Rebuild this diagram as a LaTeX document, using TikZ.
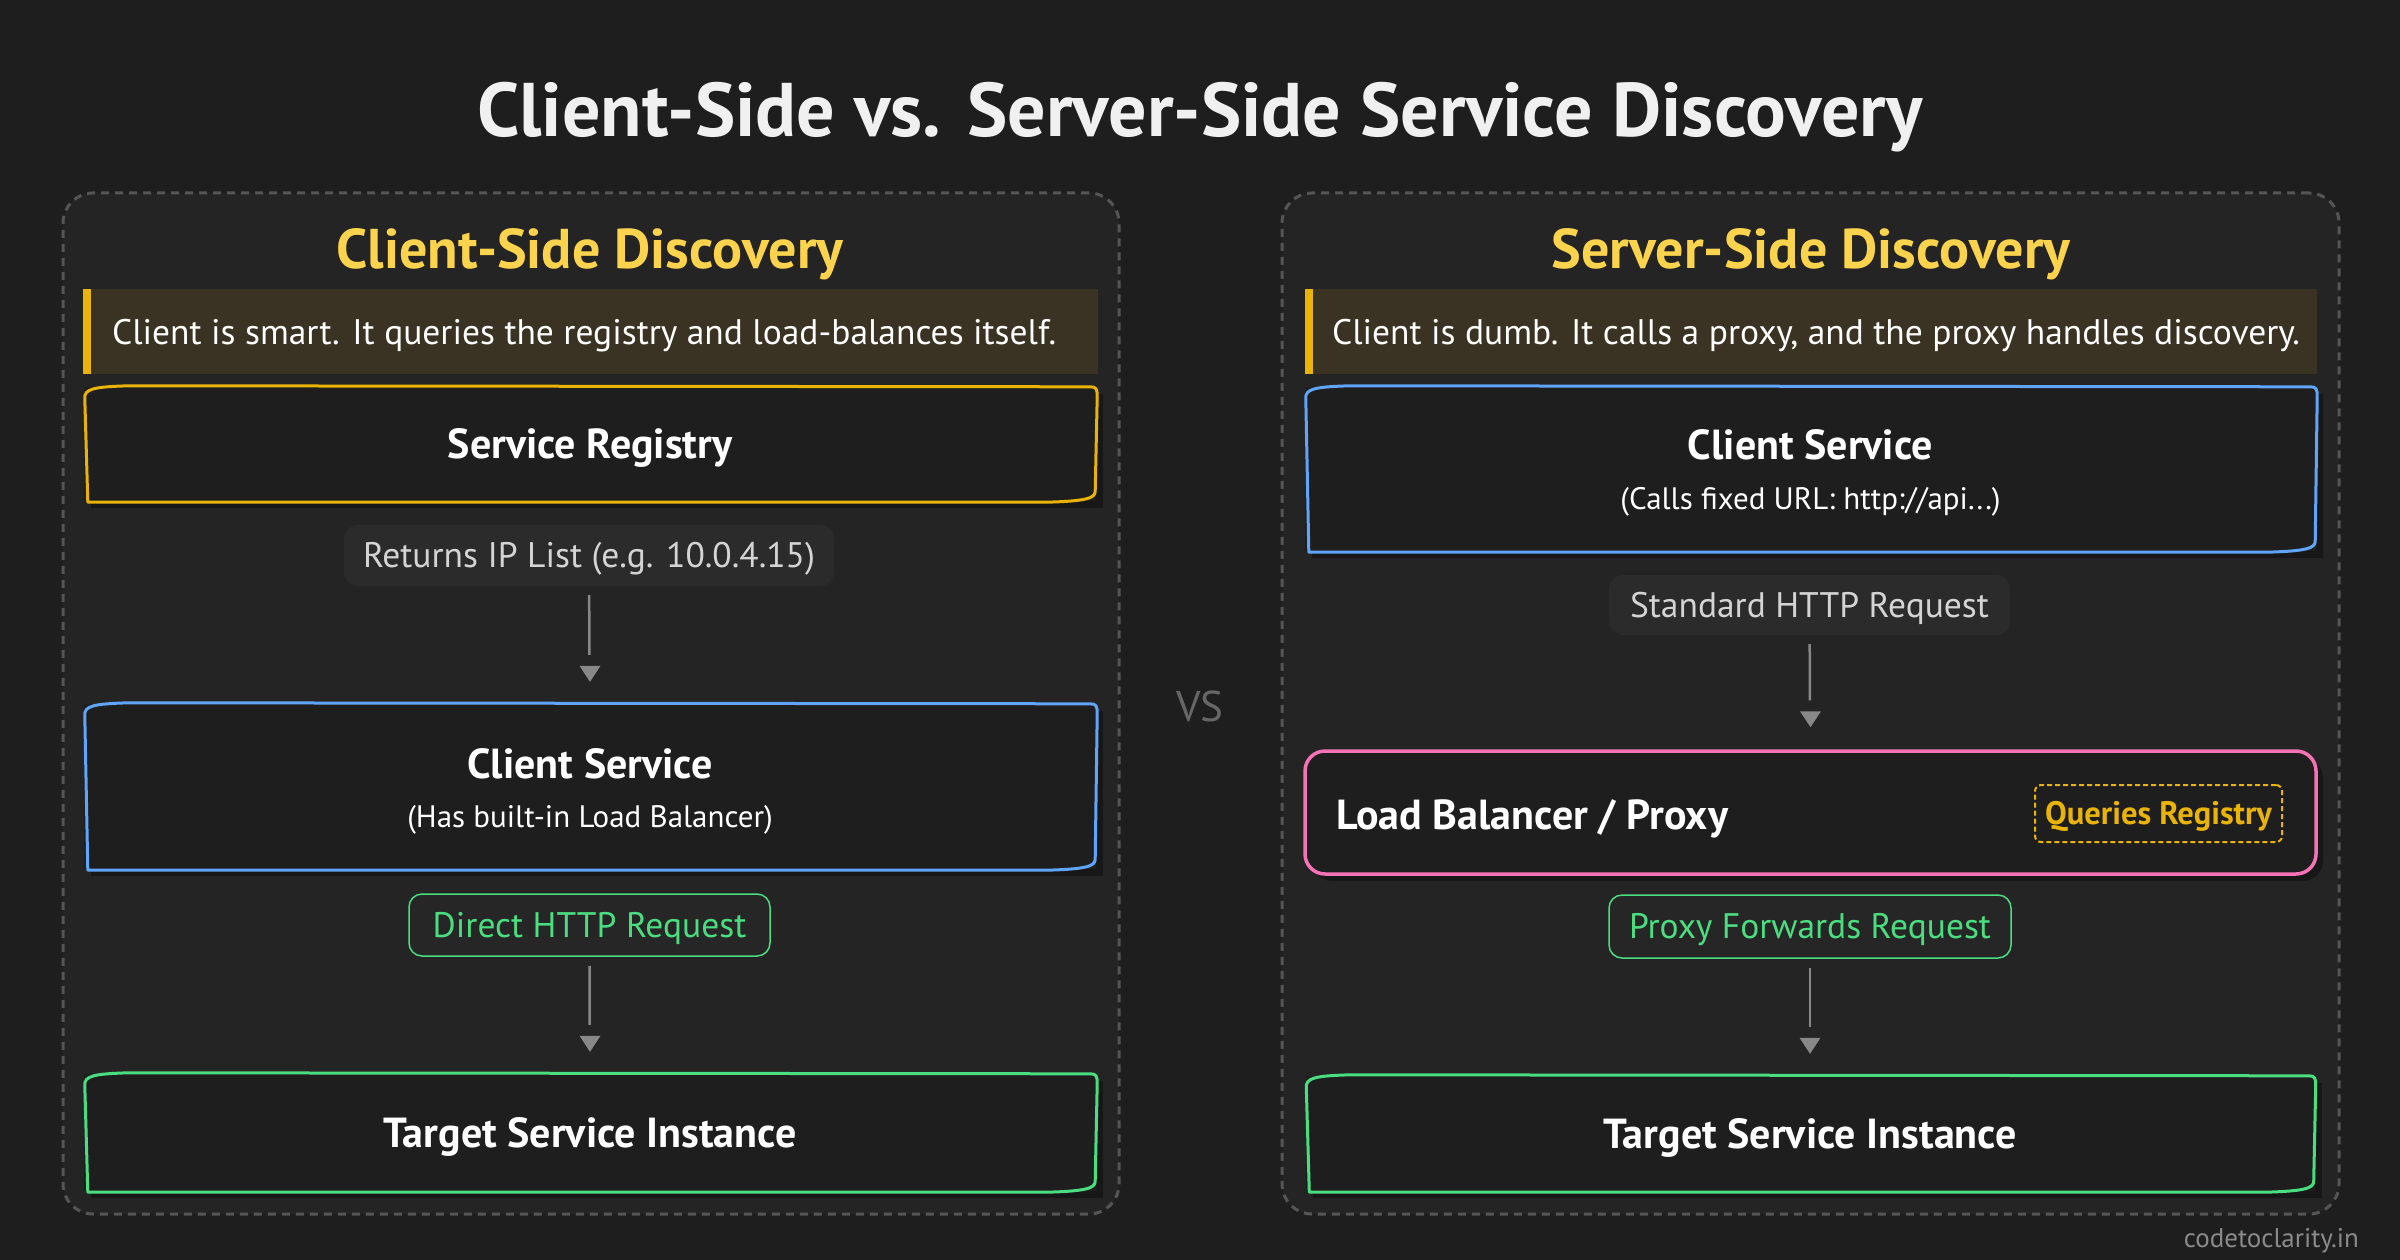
\documentclass[tikz,border=0pt]{standalone}
\usepackage{fontspec}
\setmainfont{PT Sans}
\usetikzlibrary{calc,shadows}
\definecolor{bgc}{HTML}{1E1E1E}
\definecolor{panelc}{HTML}{242424}
\definecolor{dashc}{HTML}{555555}
\definecolor{boxc}{HTML}{1E1E1E}
\definecolor{shadc}{HTML}{171717}
\definecolor{titlec}{HTML}{F0F0F0}
\definecolor{subc}{HTML}{FCD34D}
\definecolor{barc}{HTML}{EAB308}
\definecolor{banc}{HTML}{3A3222}
\definecolor{bluec}{HTML}{60A5FA}
\definecolor{greenc}{HTML}{4ADE80}
\definecolor{pinkc}{HTML}{F472B6}
\definecolor{pillc}{HTML}{2B2B2B}
\definecolor{gpillc}{HTML}{262626}
\definecolor{pilltc}{HTML}{D4D4D4}
\definecolor{arrc}{HTML}{888888}
\definecolor{vsc}{HTML}{666666}
\definecolor{wmc}{HTML}{8A8A8A}
\newcommand\fsz[1]{\fontsize{#1}{#1}\selectfont}
\newcommand\skbox[2]{%
\draw[#2, line width=3pt, line join=round, line cap=round]
 ($(#1.north west)+(1,12)$) .. controls ($(#1.north west)+(0,2)$) and ($(#1.north west)+(10,0)$) .. ($(#1.north west)+(45,-1)$)
 -- ($(#1.north east)+(-6,0)$) .. controls ($(#1.north east)+(0,0)$) and ($(#1.north east)+(1,2)$) .. ($(#1.north east)+(1,10)$)
 -- ($(#1.south east)+(-1,-10)$) .. controls ($(#1.south east)+(-1,-3)$) and ($(#1.south east)+(-10,0)$) .. ($(#1.south east)+(-50,1)$)
 -- ($(#1.south west)+(4,1)$) -- cycle;}
% connector: line from #1 to #2, tip at coordinate #3
\newcommand\conn[3]{%
\draw[connline] (#1) -- (#2);
\coordinate (#3) at ($(#2.north)+(0,-22)$);
\fill[arrc] (#3) -- ++(-10.5,-16) -- ++(21,0) -- cycle;}
\begin{document}
\begin{tikzpicture}[x=1pt,y=-1pt,
 txt/.style={inner sep=0pt, text depth=0pt},
 ttl/.style={txt, font=\bfseries\fsz{76}, text height=53.2pt, text=titlec},
 subt/.style={txt, font=\bfseries\fsz{56}, text height=39.2pt, text=subc},
 panel/.style={draw=dashc, line width=3pt, dash pattern=on 8pt off 6pt, rounded corners=30pt, fill=panelc, inner sep=0pt},
 banner/.style={fill=banc, inner sep=0pt, minimum height=85pt},
 bantxt/.style={txt, font=\fsz{35.5}, text height=24.85pt, text=white, anchor=west},
 mainbox/.style={fill=boxc, inner sep=0pt, minimum width=1012pt, drop shadow={shadow xshift=7pt, shadow yshift=-7pt, opacity=1, fill=shadc}},
 boxt/.style={txt, font=\bfseries\fsz{42}, text height=29.4pt, text=white},
 boxs/.style={txt, font=\fsz{31}, text height=21.7pt, text=white},
 pill/.style={txt, fill=pillc, rounded corners=14pt, font=\fsz{35.5}, text height=24.85pt, text=pilltc, minimum height=61pt},
 gpill/.style={txt, fill=gpillc, draw=greenc, line width=1.5pt, rounded corners=13pt, font=\fsz{35.5}, text height=24.85pt, text=greenc, minimum height=62pt},
 connline/.style={draw=arrc, line width=2.5pt, shorten <=9pt, shorten >=49pt},
]
\path[fill=bgc] (0,0) rectangle (2400,1260);
\useasboundingbox (0,0) rectangle (2400,1260);

\node[ttl] (title) at (1200,110) {Client-Side vs. Server-Side Service Discovery};

% panels
\node[panel, minimum width=1056pt, minimum height=1021pt] (lpanel) at (591,703.5) {};
\node[panel, minimum width=1057pt, minimum height=1021pt] (rpanel) at (1810.5,703.5) {};

\node[subt] (lsub) at (590,249) {Client-Side Discovery};
\node[subt] (rsub) at (1811,249) {Server-Side Discovery};

% banners
\node[banner, minimum width=1015pt] (lban) at (590.5,331.5) {};
\fill[barc] (lban.north west) rectangle ($(lban.south west)+(8,0)$);
\node[bantxt] (lbant) at ($(lban.west)+(29,1)$) {Client is smart. It queries the registry and load-balances itself.};
\node[banner, minimum width=1012pt] (rban) at (1811,331.5) {};
\fill[barc] (rban.north west) rectangle ($(rban.south west)+(8,0)$);
\node[bantxt] (rbant) at ($(rban.west)+(27,1)$) {Client is dumb. It calls a proxy, and the proxy handles discovery.};

% left column
\node[mainbox, minimum height=114pt, boxt] (lsr) at (590,444) {Service Registry};
\skbox{lsr}{barc}
\node[pill, minimum width=490pt] (lip) at (589,555.5) {Returns IP List (e.g. 10.0.4.15)};
\node[mainbox, minimum height=165pt] (lcs) at (590,786.5) {};
\skbox{lcs}{bluec}
\node[boxt] (lcst) at ($(lcs.center)+(0,-23)$) {Client Service};
\node[boxs] (lcss) at ($(lcs.center)+(0,30)$) {(Has built-in Load Balancer)};
\node[gpill, minimum width=361pt] (lgp) at (589.5,925) {Direct HTTP Request};
\node[mainbox, minimum height=117pt, boxt] (ltg) at (590,1132.5) {Target Service Instance};
\skbox{ltg}{greenc}

\conn{lip}{lcs}{la1}
\conn{lgp}{ltg}{la2}

% right column
\node[mainbox, minimum width=1011pt, minimum height=164pt] (rcs) at (1810.5,469) {};
\skbox{rcs}{bluec}
\node[boxt] (rcst) at ($(rcs.center)+(0,-24)$) {Client Service};
\node[boxs] (rcss) at ($(rcs.center)+(0,30)$) {(Calls fixed URL: http://api...)};
\node[pill, minimum width=401pt, minimum height=60pt] (rip) at (1809.5,605) {Standard HTTP Request};
\node[mainbox, minimum width=1011pt, minimum height=123pt, draw=pinkc, line width=3.5pt, rounded corners=20pt] (rlb) at (1810.5,812.5) {};
\node[boxt, anchor=west] (rlbt) at (1336,815) {Load Balancer / Proxy};
\node[txt, draw=barc, line width=2pt, dash pattern=on 5pt off 3pt, rounded corners=6pt, minimum width=247pt, minimum height=57pt, font=\bfseries\fsz{32.5}, text height=22.75pt, text=barc] (rq) at (2158.5,813.5) {Queries Registry};
\node[gpill, minimum width=402pt, minimum height=63pt] (rgp) at (1810,926.5) {Proxy Forwards Request};
\node[mainbox, minimum width=1009pt, minimum height=115pt, boxt] (rtg) at (1810,1133.5) {Target Service Instance};
\skbox{rtg}{greenc}

\conn{rip}{rlb}{ra1}
\conn{rgp}{rtg}{ra2}

\node[txt, font=\fsz{43}, text height=30pt, text=vsc] (vs) at (1200,706) {VS};
\node[txt, font=\fsz{27}, text height=19.5pt, text=wmc, anchor=east] (wm) at (2359,1238) {codetoclarity.in};
\end{tikzpicture}
\end{document}
